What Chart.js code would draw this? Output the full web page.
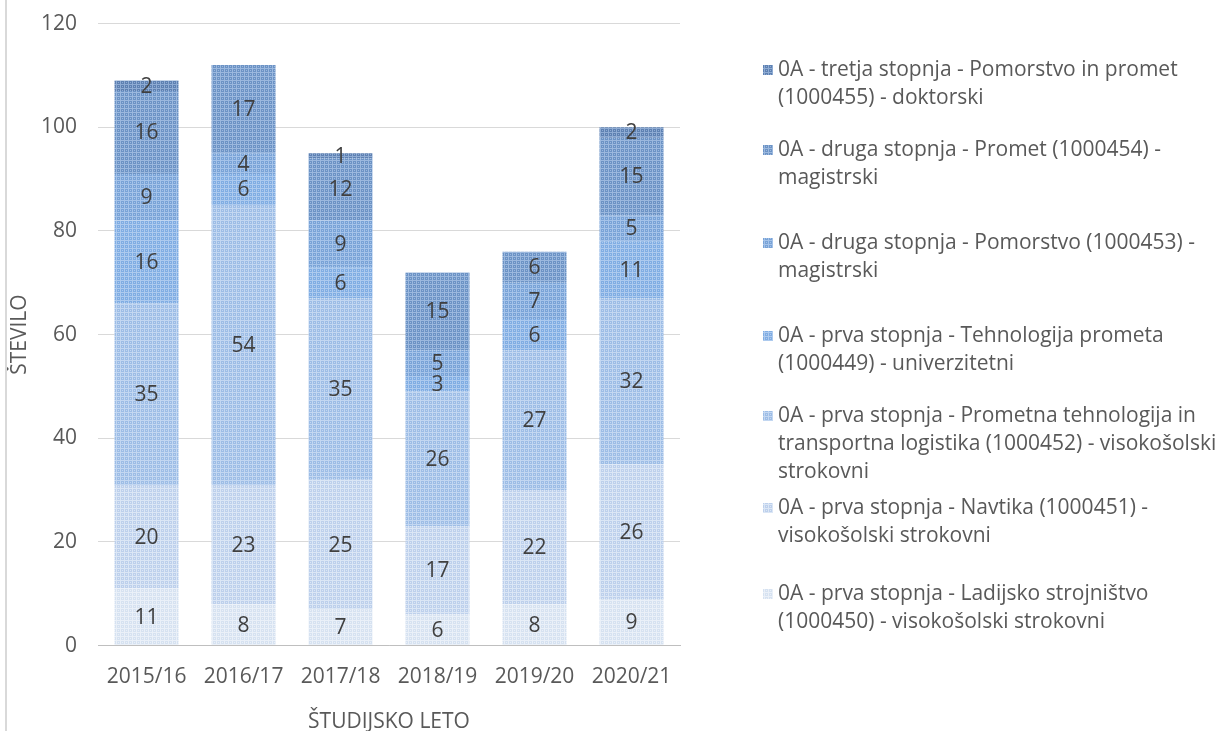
<!DOCTYPE html>
<html><head><meta charset="utf-8">
<script src="https://cdn.jsdelivr.net/npm/chart.js@4/dist/chart.umd.min.js"></script>
<style>
html,body{margin:0;padding:0;background:#fff;}
#wrap{position:relative;width:1226px;height:731px;overflow:hidden;}
#frame{position:absolute;left:5px;top:0;width:2px;height:731px;background:#d9d9d9;}
</style>
</head><body>
<div id="wrap"><canvas id="c" width="1226" height="731"></canvas><div id="frame"></div></div>
<script>
const categories = ['2015/16','2016/17','2017/18','2018/19','2019/20','2020/21'];
const ladijsko   = [11, 8, 7, 6, 8, 9];
const navtika    = [20, 23, 25, 17, 22, 26];
const prometnaTl = [35, 54, 35, 26, 27, 32];
const tehnPrometa= [16, 6, 6, 3, 6, 11];
const pomorstvo  = [9, 4, 9, 5, 7, 5];
const promet     = [16, 17, 12, 15, 6, 15];
const tretja     = [2, 0, 1, 0, 0, 2];
const yTicks = [0,20,40,60,80,100,120];

const seriesLabels = [
  ['0A - prva stopnja - Ladijsko strojništvo','(1000450) - visokošolski strokovni'],
  ['0A - prva stopnja - Navtika (1000451) -','visokošolski strokovni'],
  ['0A - prva stopnja - Prometna tehnologija in','transportna logistika (1000452) - visokošolski','strokovni'],
  ['0A - prva stopnja - Tehnologija prometa','(1000449) - univerzitetni'],
  ['0A - druga stopnja - Pomorstvo (1000453) -','magistrski'],
  ['0A - druga stopnja - Promet (1000454) -','magistrski'],
  ['0A - tretja stopnja - Pomorstvo in promet','(1000455) - doktorski']
];
const seriesData = [ladijsko, navtika, prometnaTl, tehnPrometa, pomorstvo, promet, tretja];
const baseColors  = ['#d6e2f1','#bdd0ec','#9dbde6','#80ade3','#79a3d7','#6c93c5','#5e81b2'];
const lightColors = ['#eaf0f8','#dbe6f5','#c3d7f1','#adcaee','#a5c3e9','#9bb8de','#8eabd3'];

const FONT = '"Open Sans", sans-serif';
const TXT = '#595959';

function makePattern(base, light){
  const t = document.createElement('canvas');
  t.width = 4; t.height = 4;
  const g = t.getContext('2d');
  g.fillStyle = base; g.fillRect(0,0,4,4);
  g.fillStyle = light;
  g.fillRect(0,0,4,1);
  g.fillRect(0,0,1,4);
  g.fillRect(2,2,1,1);
  return document.getElementById('c').getContext('2d').createPattern(t,'repeat');
}

const datasets = seriesData.map((d,i)=>({
  label: seriesLabels[i].join(' '),
  data: d,
  backgroundColor: makePattern(baseColors[i], lightColors[i]),
  borderWidth: 0,
  barPercentage: 0.66,
  categoryPercentage: 1.0
}));

const labelPlugin = {
  id:'segLabels',
  afterDatasetsDraw(chart){
    const ctx = chart.ctx;
    ctx.save();
    ctx.font = '21px ' + FONT;
    ctx.fillStyle = '#404040';
    ctx.textAlign = 'center';
    ctx.textBaseline = 'middle';
    chart.data.datasets.forEach((ds,di)=>{
      const meta = chart.getDatasetMeta(di);
      meta.data.forEach((el,i)=>{
        const v = ds.data[i];
        if(!v) return;
        const p = el.getProps(['x','y','base'], true);
        ctx.fillText(String(v), p.x, (p.y + p.base)/2 + 1);
      });
    });
    ctx.restore();
  }
};

const legendTops = [70,150,243,336,416,508,594];
const legendPlugin = {
  id:'sideLegend',
  afterDraw(chart){
    const ctx = chart.ctx;
    ctx.save();
    ctx.font = '21px ' + FONT;
    ctx.textBaseline = 'middle';
    ctx.textAlign = 'left';
    const n = chart.data.datasets.length;
    for(let k=0;k<n;k++){
      const di = n-1-k;
      const ds = chart.data.datasets[di];
      const y0 = legendTops[k];
      ctx.fillStyle = ds.backgroundColor;
      ctx.fillRect(763, y0-5, 10, 10);
      ctx.fillStyle = TXT;
      seriesLabels[di].forEach((line,li)=>{
        ctx.fillText(line, 778, y0 + li*28);
      });
    }
    // y axis title
    const ca = chart.chartArea;
    ctx.translate(20, (ca.top + ca.bottom)/2);
    ctx.rotate(-Math.PI/2);
    ctx.textAlign = 'center';
    ctx.fillText('ŠTEVILO', 0, 0);
    ctx.restore();
  }
};

new Chart(document.getElementById('c'), {
  type:'bar',
  data:{ labels: categories, datasets },
  options:{
    responsive:false,
    animation:false,
    layout:{ padding:{ left:30, right:546, top:16, bottom:-4 } },
    plugins:{ legend:{display:false}, tooltip:{enabled:false} },
    scales:{
      x:{
        stacked:true,
        grid:{ display:false, drawTicks:true, tickLength:14, tickColor:'rgba(0,0,0,0)' },
        border:{ display:true, color:'#bfbfbf', width:1 },
        ticks:{ font:{family:FONT, size:21}, color:TXT, padding:5 },
        title:{ display:true, text:'ŠTUDIJSKO LETO', font:{family:FONT, size:21}, color:TXT, padding:{top:15,bottom:0} }
      },
      y:{
        stacked:true,
        min:0, max:120,
        afterBuildTicks(scale){ scale.ticks = yTicks.map(v=>({value:v})); },
        grid:{ color:'#d9d9d9', drawTicks:true, tickLength:10, tickColor:'rgba(0,0,0,0)' },
        border:{ display:false },
        ticks:{ font:{family:FONT, size:21}, color:TXT, padding:11 },
        title:{ display:false }
      }
    }
  },
  plugins:[labelPlugin, legendPlugin]
});
</script>
</body></html>
